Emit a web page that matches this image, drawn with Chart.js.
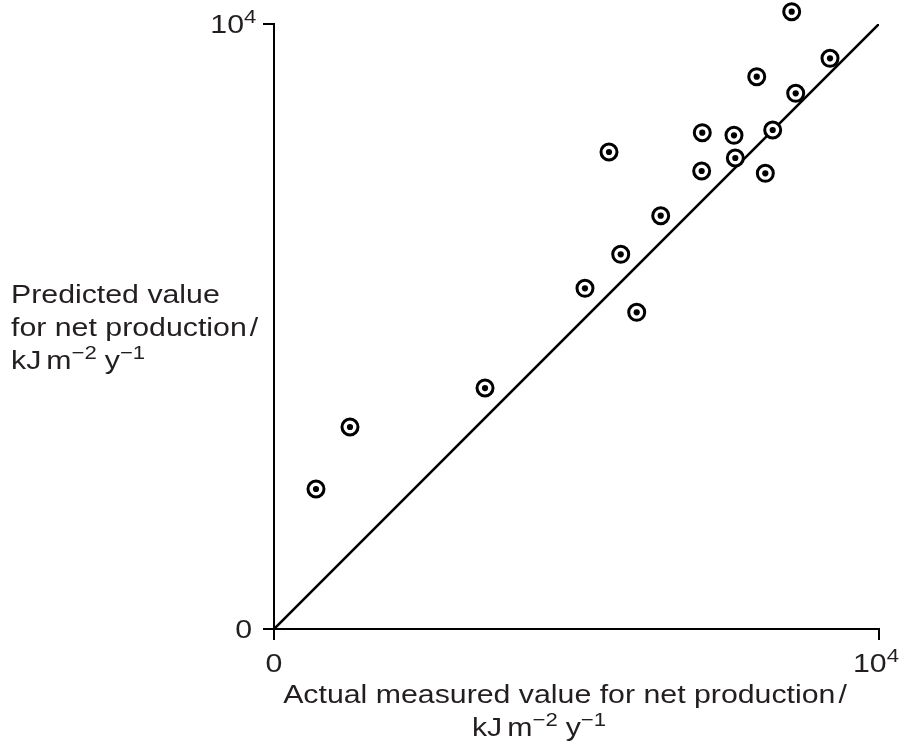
<!DOCTYPE html>
<html>
<head>
<meta charset="utf-8">
<script src="https://cdn.jsdelivr.net/npm/chart.js@4"></script>
<style>
  html, body { margin: 0; padding: 0; background: #fff; }
  #wrap { width: 904px; height: 749px; }
</style>
</head>
<body>
<div id="wrap"><canvas id="scatterChart" width="904" height="749"></canvas></div>
<script>
// values, kJ m-2 y-1
const actualValues = [694, 1256, 3488, 5140, 5731, 5995, 5537, 6392, 7069, 7079, 7603, 7625, 8121, 8243, 7979, 8623, 9190, 8557];
const predictedValues = [2314, 3339, 3983, 5631, 6193, 5235, 7884, 6831, 7570, 8203, 8160, 7785, 7532, 8248, 9129, 8854, 9433, 10203];
const tickValues = [0, 10000];
const tickLabels = [[{t: "0"}], [{t: "10"}, {t: "4", sup: true}]];
const lineEnds = [0, 10000];

const yTitle = [
    [{t: "Predicted value"}],
    [{t: "for net production"}, {gap: 3}, {t: "/"}],
    [{t: "kJ"}, {gap: 5}, {t: "m"}, {t: "\u22122", sup: true}, {gap: 8}, {t: "y"}, {t: "\u22121", sup: true}]
];
const xTitle = [
    [{t: "Actual measured value for net production"}, {gap: 3}, {t: "/"}],
    [{t: "kJ"}, {gap: 5}, {t: "m"}, {t: "\u22122", sup: true}, {gap: 8}, {t: "y"}, {t: "\u22121", sup: true}]
];

const points = actualValues.map((v, i) => ({x: v, y: predictedValues[i]}));

const FONT = "'Liberation Sans', Arial, sans-serif";
const SIZE = 26;
const STRETCH = 1.165;
const TEXT = "#231f20";

function partWidth(ctx, p) {
    if (p.gap) return p.gap;
    ctx.font = (p.sup ? Math.round(SIZE * 0.72) : SIZE) + "px " + FONT;
    return ctx.measureText(p.t).width * STRETCH;
}

function drawRich(ctx, parts, x, y, align) {
    let w = 0;
    parts.forEach(p => { w += partWidth(ctx, p); });
    let cx = x;
    if (align === "center") cx = x - w / 2;
    if (align === "right") cx = x - w;
    parts.forEach(p => {
        const pw = partWidth(ctx, p);
        if (!p.gap) {
            ctx.save();
            ctx.translate(cx, p.sup ? y - SIZE * 0.38 : y);
            ctx.scale(STRETCH, 1);
            ctx.fillStyle = TEXT;
            ctx.textBaseline = "alphabetic";
            ctx.textAlign = "left";
            ctx.fillText(p.t, 0, 0);
            ctx.restore();
        }
        cx += pw;
    });
    return w;
}

// points above the top of the axis are skipped by the library, draw them anyway
const overflowPlugin = {
    id: "overflowPlugin",
    afterDatasetsDraw(chart) {
        const area = chart.chartArea;
        const big = {left: -1e4, top: -1e4, right: 1e4, bottom: 1e4};
        [1, 2].forEach(i => {
            chart.getDatasetMeta(i).data.forEach(el => {
                if (el.y < area.top + 12) el.draw(chart.ctx, big);
            });
        });
    }
};

const textPlugin = {
    id: "textPlugin",
    afterDraw(chart) {
        const ctx = chart.ctx;
        const xs = chart.scales.x, ys = chart.scales.y;
        // y tick labels
        tickValues.forEach((v, i) => {
            const py = ys.getPixelForValue(v);
            const right = i === 0 ? 252 : 244;
            const parts = tickLabels[i].filter(p => !p.sup);
            const w = parts.reduce((s, p) => s + partWidth(ctx, p), 0);
            drawRich(ctx, tickLabels[i], right - w, py + 9, "left");
        });
        // x tick labels
        tickValues.forEach((v, i) => {
            const px = xs.getPixelForValue(v);
            drawRich(ctx, tickLabels[i], px - (i === 0 ? 0 : 3), 672, "center");
        });
        yTitle.forEach((line, i) => drawRich(ctx, line, 11, 303 + i * 33, "left"));
        drawRich(ctx, xTitle[0], 565, 703, "center");
        drawRich(ctx, xTitle[1], 539, 736, "center");
    }
};

function drawScatter() {
    "use strict";
    let ctx = document.getElementById("scatterChart");
    let axis = {
        type: "linear",
        min: tickValues[0],
        max: tickValues[tickValues.length - 1],
        afterBuildTicks: s => { s.ticks = tickValues.map(v => ({value: v})); },
        ticks: {display: false},
        grid: {drawOnChartArea: false, drawTicks: true, tickLength: 11, color: "#000", lineWidth: 2},
        border: {display: true, color: "#000", width: 2},
        title: {display: false}
    };
    new Chart(ctx, {
        type: "scatter",
        data: {
            datasets: [{
                type: "line",
                data: lineEnds.map(v => ({x: v, y: v})),
                borderColor: "#000",
                borderWidth: 2.6,
                pointRadius: 0,
                fill: false,
                order: 3
            }, {
                data: points,
                pointRadius: 8,
                pointBorderWidth: 3,
                pointBorderColor: "#000",
                pointBackgroundColor: "#fff",
                clip: false,
                order: 2
            }, {
                data: points,
                pointRadius: 3.1,
                pointBorderWidth: 0,
                pointBackgroundColor: "#000",
                clip: false,
                order: 1
            }]
        },
        options: {
            responsive: false,
            animation: false,
            devicePixelRatio: 1,
            layout: {padding: {top: 24, right: 25, left: 0, bottom: 0}},
            plugins: {legend: {display: false}, tooltip: {enabled: false}},
            scales: {
                x: Object.assign({}, axis, {afterFit: s => { s.height = 120; }}),
                y: Object.assign({}, axis, {afterFit: s => { s.width = 274; }})
            }
        },
        plugins: [overflowPlugin, textPlugin]
    });
}
drawScatter();
</script>
</body>
</html>
